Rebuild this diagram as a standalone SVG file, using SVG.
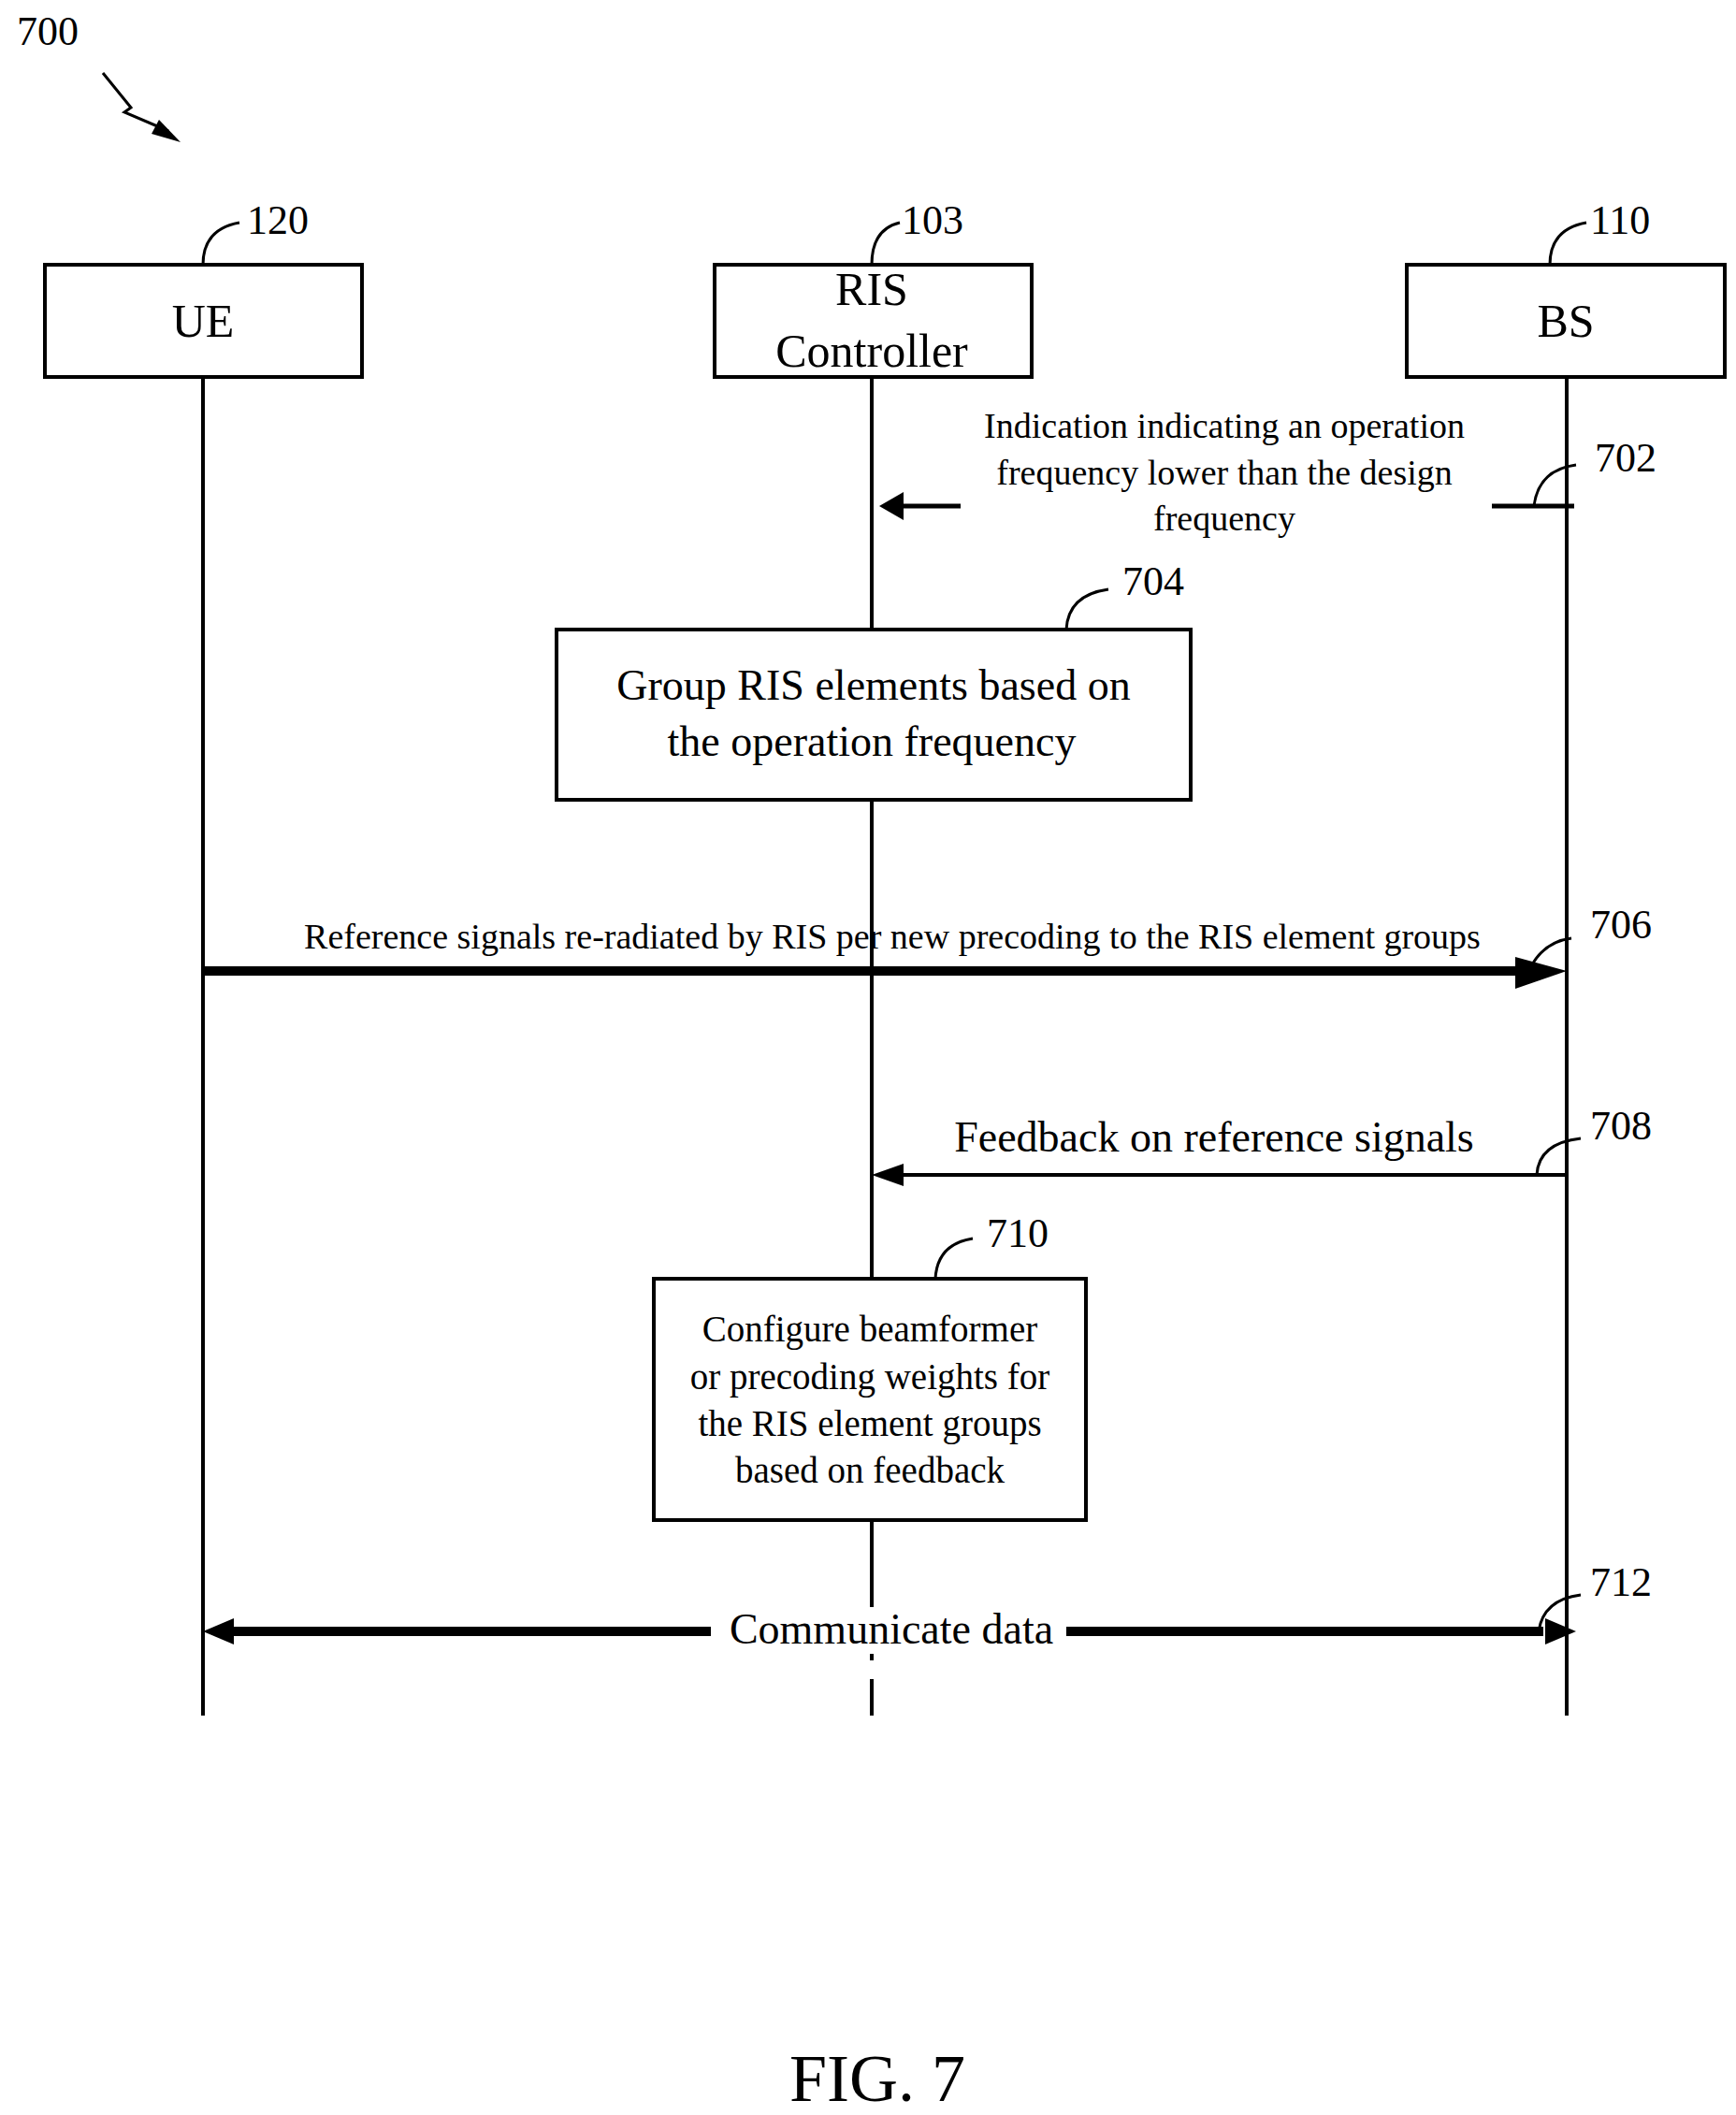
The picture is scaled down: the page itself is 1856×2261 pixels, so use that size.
<svg xmlns="http://www.w3.org/2000/svg" width="1856" height="2261" viewBox="0 0 1856 2261">
<style>
text{font-family:"Liberation Serif","Times New Roman",serif;fill:#000}
.box{fill:#fff;stroke:#000;stroke-width:4}
.ll{stroke:#000;stroke-width:4;fill:none}
.hk{stroke:#000;stroke-width:3;fill:none}
.ref{font-size:44px}
</style>
<defs>
<marker id="ah" markerWidth="10" markerHeight="8" refX="9" refY="4" orient="auto" markerUnits="userSpaceOnUse" viewBox="0 0 10 8"><path d="M0,0 L10,4 L0,8z"/></marker>
</defs>
<rect width="1856" height="2261" fill="#fff"/>
<text x="18" y="48" class="ref">700</text>
<path d="M110,78 L140,115 L133,120 L180,140" class="hk"/>
<path d="M170,128 L193,152 L162,143 Z" fill="#000"/>

<g id="connectors">
<line x1="217" y1="403" x2="217" y2="1834" class="ll"/>
<path d="M932 403 V673 M932 855 V1367 M932 1625 V1775 M932 1795 V1834" class="ll"/>
<line x1="1675" y1="403" x2="1675" y2="1834" class="ll"/>
<line x1="1595" y1="541" x2="1683" y2="541" stroke="#000" stroke-width="5"/>
<line x1="1027" y1="541" x2="960" y2="541" stroke="#000" stroke-width="5"/>
<path d="M940,541 L966,526 L966,556 Z"/>
<line x1="217" y1="1038" x2="1630" y2="1038" stroke="#000" stroke-width="10"/>
<path d="M1675,1038 L1620,1023 L1620,1057 Z"/>
<line x1="1675" y1="1256" x2="960" y2="1256" stroke="#000" stroke-width="4"/>
<path d="M932,1256 L966,1244 L966,1268 Z"/>
<line x1="245" y1="1744" x2="1650" y2="1744" stroke="#000" stroke-width="10"/>
<path d="M217,1744 L250,1730 L250,1758 Z"/>
<path d="M1685,1744 L1652,1730 L1652,1758 Z"/>
<rect x="760" y="1718" width="380" height="50" fill="#fff"/>
<text x="953" y="1757" font-size="46" text-anchor="middle">Communicate data</text>
<text x="1309" y="468" font-size="38" text-anchor="middle">Indication indicating an operation</text>
<text x="1309" y="518" font-size="38" text-anchor="middle">frequency lower than the design</text>
<text x="1309" y="567" font-size="38" text-anchor="middle">frequency</text>
<text x="954" y="1014" font-size="38" text-anchor="middle">Reference signals re-radiated by RIS per new precoding to the RIS element groups</text>
<text x="1298" y="1231" font-size="46" text-anchor="middle">Feedback on reference signals</text>
<path d="M1640,541 Q1645,502 1685,497" class="hk"/><text x="1705" y="504" class="ref">702</text>
<path d="M1636,1035 Q1650,1007 1680,1003" class="hk"/><text x="1700" y="1003" class="ref">706</text>
<path d="M1643,1256 Q1645,1222 1690,1217" class="hk"/><text x="1700" y="1218" class="ref">708</text>
<path d="M1645,1744 Q1650,1710 1690,1705" class="hk"/><text x="1700" y="1706" class="ref">712</text>
</g>

<g id="ue">
<rect x="48" y="283" width="339" height="120" class="box"/>
<text x="217" y="360" font-size="50" text-anchor="middle">UE</text>
<path d="M217,283 Q217,245 256,238" class="hk"/><text x="264" y="250" class="ref">120</text>
</g>
<g id="ris">
<rect x="764" y="283" width="339" height="120" class="box"/>
<text x="932" y="326" font-size="50" text-anchor="middle">RIS</text>
<text x="932" y="392" font-size="50" text-anchor="middle">Controller</text>
<path d="M932,283 Q932,245 962,238" class="hk"/><text x="964" y="250" class="ref">103</text>
</g>
<g id="bs">
<rect x="1504" y="283" width="340" height="120" class="box"/>
<text x="1674" y="360" font-size="50" text-anchor="middle">BS</text>
<path d="M1657,283 Q1657,245 1696,238" class="hk"/><text x="1700" y="250" class="ref">110</text>
</g>
<g id="step704">
<rect x="595" y="673" width="678" height="182" class="box"/>
<text x="934" y="748" font-size="46" text-anchor="middle">Group RIS elements based on</text>
<text x="932" y="808" font-size="46" text-anchor="middle">the operation frequency</text>
<path d="M1140,673 Q1142,636 1185,630" class="hk"/><text x="1200" y="636" class="ref">704</text>
</g>
<g id="step710">
<rect x="699" y="1367" width="462" height="258" class="box"/>
<text x="930" y="1434" font-size="39" text-anchor="middle">Configure beamformer</text>
<text x="930" y="1485" font-size="39" text-anchor="middle">or precoding weights for</text>
<text x="930" y="1535" font-size="39" text-anchor="middle">the RIS element groups</text>
<text x="930" y="1585" font-size="39" text-anchor="middle">based on feedback</text>
<path d="M1000,1367 Q1002,1330 1040,1324" class="hk"/><text x="1055" y="1333" class="ref">710</text>
</g>
<text x="938" y="2246" font-size="72" text-anchor="middle">FIG. 7</text>
</svg>
